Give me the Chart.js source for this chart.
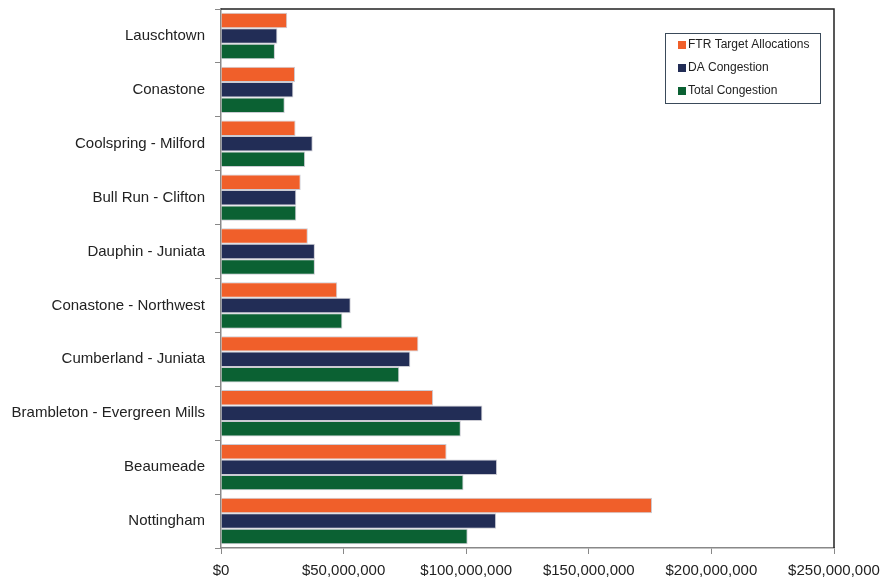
<!DOCTYPE html>
<html>
<head>
<meta charset="utf-8">
<script src="https://cdn.jsdelivr.net/npm/chart.js@4.4.1/dist/chart.umd.min.js"></script>
<style>
  html, body { margin: 0; padding: 0; background: #fff; }
  #wrap { width: 881px; height: 578px; position: relative; }
</style>
</head>
<body>
<div id="wrap"><canvas id="chart"></canvas></div>
<script>
// categories and series (values in dollars)
const categories = ['Lauschtown', 'Conastone', 'Coolspring - Milford', 'Bull Run - Clifton',
  'Dauphin - Juniata', 'Conastone - Northwest', 'Cumberland - Juniata',
  'Brambleton - Evergreen Mills', 'Beaumeade', 'Nottingham'];
const ftrTarget = [27.0e6, 30.2e6, 30.4e6, 32.5e6, 35.4e6, 47.4e6, 80.5e6, 86.5e6, 92.0e6, 175.8e6];
const daCongestion = [23.0e6, 29.5e6, 37.4e6, 30.7e6, 38.3e6, 52.9e6, 77.2e6, 106.6e6, 112.6e6, 112.2e6];
const totalCongestion = [22.0e6, 26.0e6, 34.3e6, 30.7e6, 38.3e6, 49.5e6, 72.7e6, 97.8e6, 98.9e6, 100.6e6];
const seriesNames = ['FTR Target Allocations', 'DA Congestion', 'Total Congestion'];
const seriesColors = ['#F05F2A', '#222D56', '#0B6133'];
const xMax = 250e6;
const xStep = 50e6;

const fontFamily = '"Liberation Sans", Arial, sans-serif';

// box round the plot (top and right sides are black)
const frame = {
  id: 'frame',
  afterDraw(chart) {
    const { ctx, chartArea: a } = chart;
    ctx.save();
    ctx.strokeStyle = '#222';
    ctx.lineWidth = 1.5;
    ctx.beginPath();
    ctx.moveTo(a.left, a.top);
    ctx.lineTo(a.right, a.top);
    ctx.lineTo(a.right, a.bottom);
    ctx.stroke();
    ctx.restore();
  }
};

// legend drawn inside the plot, upper right
const boxLegend = {
  id: 'boxLegend',
  afterDraw(chart) {
    const ctx = chart.ctx;
    const x = 665, y = 33, w = 155, h = 70;
    ctx.save();
    ctx.strokeStyle = '#3a4a5a';
    ctx.lineWidth = 1;
    ctx.fillStyle = '#fff';
    ctx.fillRect(x, y, w, h);
    ctx.strokeRect(x + 0.5, y + 0.5, w, h);
    ctx.font = '12px ' + fontFamily;
    ctx.textBaseline = 'middle';
    chart.data.datasets.forEach((ds, i) => {
      const cy = y + 12 + i * 23;
      ctx.fillStyle = ds.backgroundColor;
      ctx.fillRect(x + 13, cy - 4, 8, 8);
      ctx.fillStyle = '#222';
      ctx.fillText(ds.label, x + 23, cy);
    });
    ctx.restore();
  }
};

const seriesValues = [ftrTarget, daCongestion, totalCongestion];

new Chart(document.getElementById('chart'), {
  type: 'bar',
  data: {
    labels: categories,
    datasets: seriesValues.map((vals, i) => ({
      label: seriesNames[i],
      data: vals,
      backgroundColor: seriesColors[i],
      borderColor: 'rgba(190,190,200,0.8)',
      borderWidth: 1,
      borderSkipped: 'left',
      barPercentage: 1.0,
      categoryPercentage: 0.86
    }))
  },
  options: {
    indexAxis: 'y',
    responsive: true,
    maintainAspectRatio: false,
    animation: false,
    layout: { padding: { top: 9, right: 47, left: 0, bottom: 0 } },
    plugins: {
      legend: { display: false },
      tooltip: { enabled: false }
    },
    scales: {
      x: {
        min: 0,
        max: xMax,
        ticks: {
          stepSize: xStep,
          color: '#222',
          font: { family: fontFamily, size: 15 },
          padding: 8,
          maxRotation: 0,
          callback: v => '$' + v.toLocaleString('en-US')
        },
        grid: { drawOnChartArea: false, drawTicks: true, tickLength: 6, color: '#888' },
        border: { display: true, color: '#888', width: 1.5 },
        afterFit(scale) {
          scale.height = 30;
          scale.paddingLeft = 0;
          scale.paddingRight = 0;
        }
      },
      y: {
        ticks: {
          color: '#222',
          font: { family: fontFamily, size: 15 },
          padding: 10
        },
        grid: { offset: true, drawOnChartArea: false, drawTicks: true, tickLength: 6, color: '#888' },
        border: { display: true, color: '#888', width: 1.5 },
        afterFit(scale) {
          scale.width = 221;
          scale.paddingTop = 0;
          scale.paddingBottom = 0;
        }
      }
    }
  },
  plugins: [frame, boxLegend]
});
</script>
</body>
</html>
